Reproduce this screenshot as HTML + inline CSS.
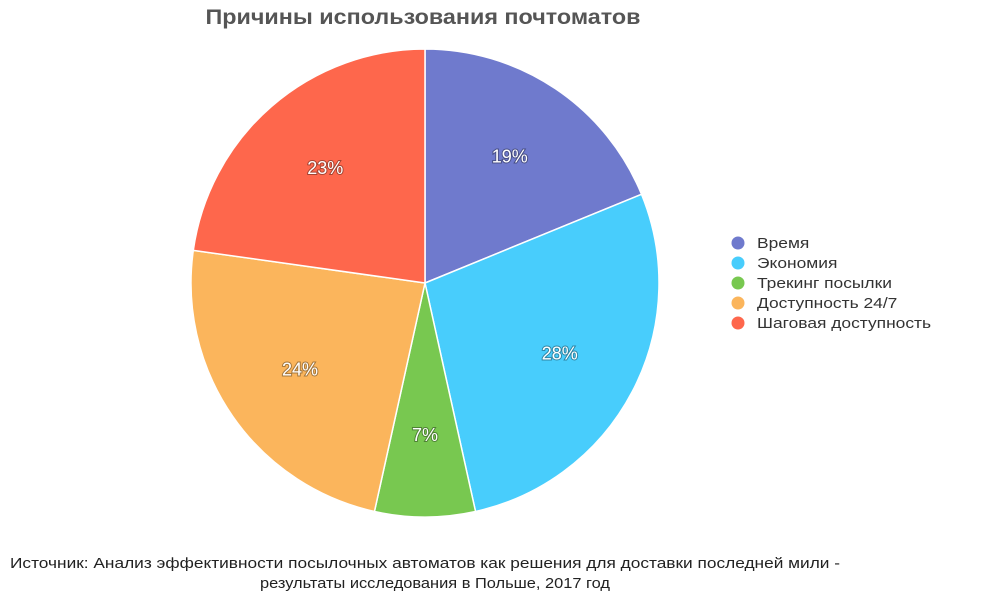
<!DOCTYPE html>
<html><head><meta charset="utf-8"><style>
html,body{margin:0;padding:0;background:#fff;}
body{width:1000px;height:599px;overflow:hidden;font-family:"Liberation Sans",sans-serif;}
</style></head><body>
<svg id="chart" width="1000" height="599" xmlns="http://www.w3.org/2000/svg">
<text x="423" y="24" text-anchor="middle" font-size="21" font-weight="bold" fill="#555" textLength="435" lengthAdjust="spacingAndGlyphs">Причины использования почтоматов</text>
<g id="slices"></g>
<g id="labels"></g>
<g id="legend"></g>
<text x="10" y="568" font-size="15" fill="#222" textLength="830" lengthAdjust="spacingAndGlyphs">Источник: Анализ эффективности посылочных автоматов как решения для доставки последней мили -</text>
<text x="260" y="588" font-size="15" fill="#222" textLength="350" lengthAdjust="spacingAndGlyphs">результаты исследования в Польше, 2017 год</text>
</svg>
<script>
const categories=["Время","Экономия","Трекинг посылки","Доступность 24/7","Шаговая доступность"];
const values=[19,28,7,24,23];
const colors=["#6f7acd","#48cdfc","#78c850","#fbb55c","#fe674c"];
const NS="http://www.w3.org/2000/svg";
const cx=425,cy=283,r=234;
const total=values.reduce((a,b)=>a+b,0);
function pt(a,rr){return [cx+rr*Math.sin(a),cy-rr*Math.cos(a)];}
let start=0;
const sg=document.getElementById('slices'),lg=document.getElementById('labels'),leg=document.getElementById('legend');
values.forEach((v,i)=>{
  const ang=v/total*2*Math.PI,end=start+ang;
  const [x1,y1]=pt(start,r),[x2,y2]=pt(end,r);
  const p=document.createElementNS(NS,'path');
  p.setAttribute('d',`M${cx},${cy}L${x1},${y1}A${r},${r} 0 ${ang>Math.PI?1:0} 1 ${x2},${y2}Z`);
  p.setAttribute('fill',colors[i]);p.setAttribute('stroke','#fff');p.setAttribute('stroke-width','1.5');
  
  
  sg.appendChild(p);
  const [lx,ly]=pt(start+ang/2,r*0.65);
  const t=document.createElementNS(NS,'text');
  t.setAttribute('x',lx);t.setAttribute('y',ly+6);t.setAttribute('text-anchor','middle');
  t.setAttribute('font-size','18');t.setAttribute('fill','#fff');
  t.setAttribute('style','paint-order:stroke;stroke:rgba(0,0,0,0.35);stroke-width:2px');
  t.textContent=v+'%';
  
  
  lg.appendChild(t);
  const y=243+i*20;
  const c=document.createElementNS(NS,'circle');
  c.setAttribute('cx',738);c.setAttribute('cy',y);c.setAttribute('r',6.5);c.setAttribute('fill',colors[i]);
  
  
  leg.appendChild(c);
  const lt=document.createElementNS(NS,'text');
  lt.setAttribute('x',757);lt.setAttribute('y',y+5);lt.setAttribute('font-size','15');lt.setAttribute('fill','#333');
  lt.textContent=categories[i];
  
  
  leg.appendChild(lt);
  const w=lt.getComputedTextLength();
  lt.setAttribute('textLength',w*1.16);
  lt.setAttribute('lengthAdjust','spacingAndGlyphs');
  start=end;
});
</script>
</body></html>
